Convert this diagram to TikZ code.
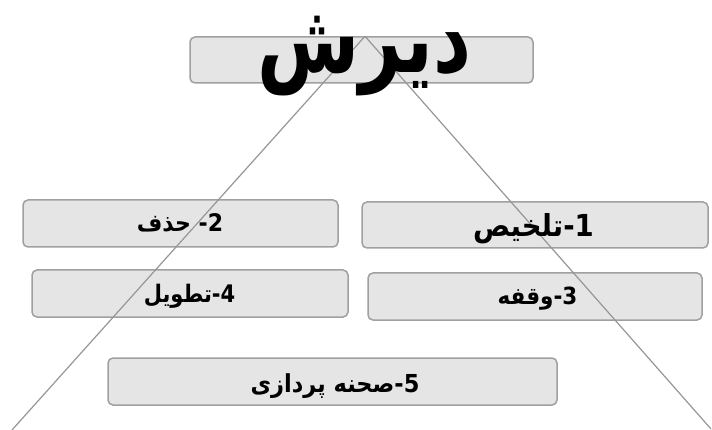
\documentclass[tikz,border=0pt]{standalone}
\usepackage{fontspec}
\newfontfamily\arabicfont[Script=Arabic]{DejaVu Sans}
\TeXXeTstate=1
\definecolor{boxfill}{RGB}{229,229,229}
\definecolor{boxline}{RGB}{160,160,160}
\definecolor{wirecol}{RGB}{150,150,150}
\pgfdeclarelayer{boxes}
\pgfdeclarelayer{wires}
\pgfsetlayers{boxes,wires,main}
\tikzset{
  boxshape/.style={draw=boxline, line width=1.5pt, fill=boxfill, rounded corners=5pt, inner sep=0pt},
  wire/.style={draw=wirecol, line width=1.2pt},
  txt/.style={inner sep=0pt, anchor=base, font=\arabicfont\bfseries},
}
\begin{document}
\begin{tikzpicture}[x=1pt,y=-1pt]
\useasboundingbox (0,0) rectangle (712,430);
\begin{pgfonlayer}{boxes}
\node[boxshape, minimum width=343pt, minimum height=46pt] (b0) at (361.5,60) {};
\node[boxshape, minimum width=346pt, minimum height=46pt] (b1) at (535,225) {};
\node[boxshape, minimum width=315pt, minimum height=47pt] (b2) at (180.5,223.5) {};
\node[boxshape, minimum width=334pt, minimum height=47pt] (b3) at (535,296.5) {};
\node[boxshape, minimum width=316pt, minimum height=47pt] (b4) at (190,293.5) {};
\node[boxshape, minimum width=449pt, minimum height=47pt] (b5) at (332.5,381.5) {};
\end{pgfonlayer}
\coordinate (apex) at (b0.north -| 365,0);
\coordinate (leftend) at (12,430);
\coordinate (rightend) at (711,429);
\begin{pgfonlayer}{wires}
\draw[wire] (apex) -- (leftend);
\draw[wire] (apex) -- (rightend);
\end{pgfonlayer}
\node[txt, font=\arabicfont\bfseries\fontsize{74}{80}\selectfont] (t0) at (364.5,73) {\scalebox{1}[1.3]{\beginR دیرش\endR}};
\node[txt, font=\arabicfont\bfseries\fontsize{27.5}{33}\selectfont] (t1) at (533.5,237) {\scalebox{1}[1.1]{\beginR 1-تلخیص\endR}};
\node[txt, font=\arabicfont\bfseries\fontsize{22}{28}\selectfont] (t2) at (180,232) {\scalebox{1}[1.1]{\beginR 2- حذف\endR}};
\node[txt, font=\arabicfont\bfseries\fontsize{21.5}{28}\selectfont] (t3) at (537.5,305) {\scalebox{1}[1.1]{\beginR 3-وقفه\endR}};
\node[txt, font=\arabicfont\bfseries\fontsize{21}{28}\selectfont] (t4) at (189.5,303) {\scalebox{1}[1.15]{\beginR 4-تطویل\endR}};
\node[txt, font=\arabicfont\bfseries\fontsize{22.5}{28}\selectfont] (t5) at (335,392) {\scalebox{1}[1.1]{\beginR 5-صحنه پردازی\endR}};
\end{tikzpicture}
\end{document}
